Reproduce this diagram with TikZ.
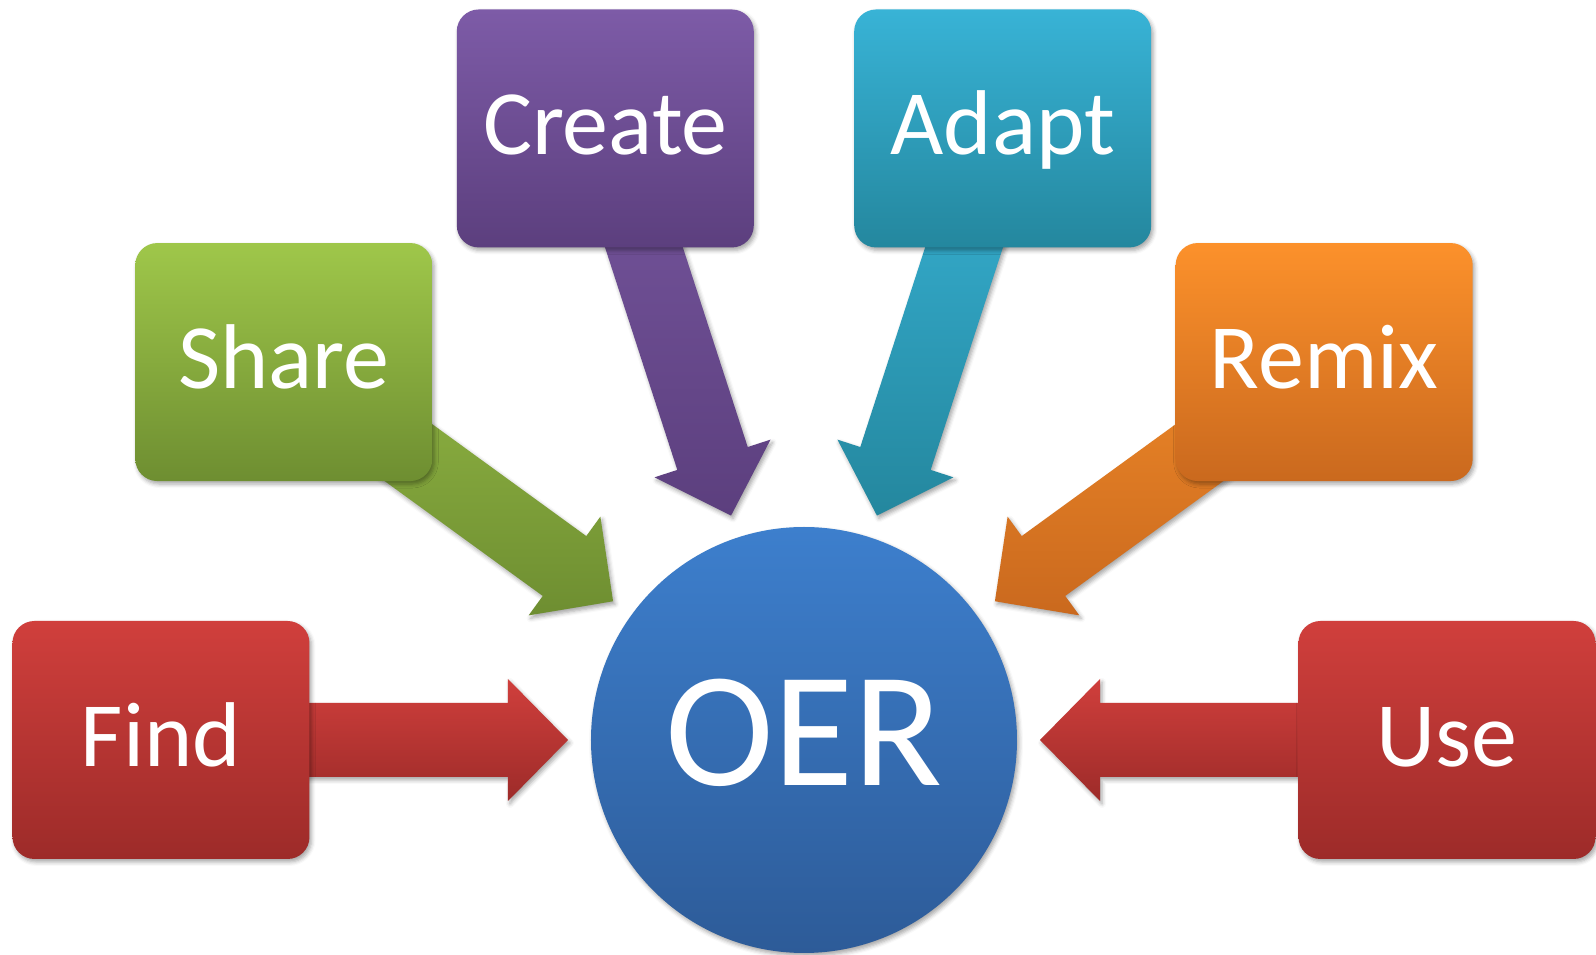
\documentclass[tikz,border=0pt]{standalone}
\usepackage{fontspec}
\setmainfont{Carlito}
\usetikzlibrary{calc,shadows.blur}
\pgfdeclarelayer{background}
\pgfsetlayers{background,main}

\definecolor{purT}{HTML}{7D5BA7}\definecolor{purB}{HTML}{5C3F7E}
\definecolor{aquT}{HTML}{38B3D6}\definecolor{aquB}{HTML}{24879E}
\definecolor{grnT}{HTML}{9FC74A}\definecolor{grnB}{HTML}{6E8E31}
\definecolor{orgT}{HTML}{FC912B}\definecolor{orgB}{HTML}{CA691E}
\definecolor{redT}{HTML}{D03F3C}\definecolor{redB}{HTML}{9D2B29}
\definecolor{bluT}{HTML}{3D7FCD}\definecolor{bluB}{HTML}{2D5B98}

\tikzset{
  softshadow/.style={blur shadow={shadow xshift=2pt, shadow yshift=-3pt,
      shadow blur radius=4pt, shadow opacity=35}},
  stepbox/.style={rectangle, rounded corners=22pt, minimum width=297pt,
      minimum height=238pt, inner sep=0pt, text=white,
      font=\fontsize{92}{92}\selectfont, text height=60pt, text depth=7pt,
      softshadow},
  hubnode/.style={circle, minimum size=426pt, inner sep=0pt, text=white,
      font=\fontsize{164}{164}\selectfont, text height=100pt, text depth=8pt,
      top color=bluT, bottom color=bluB, softshadow},
  blockarrow/.style={softshadow}
}

\newcommand\oerarrow[4]{%
  \path[blockarrow, top color=#3, bottom color=#4]
    ($(#2.center)+(#1+90:37pt)$)
    -- ($(oer.center)+(#1:296pt)+(#1+90:37pt)$)
    -- ($(oer.center)+(#1:296pt)+(#1+90:61pt)$)
    -- ($(oer.center)+(#1:236pt)$)
    -- ($(oer.center)+(#1:296pt)+(#1-90:61pt)$)
    -- ($(oer.center)+(#1:296pt)+(#1-90:37pt)$)
    -- ($(#2.center)+(#1-90:37pt)$) -- cycle;}

\begin{document}
\begin{tikzpicture}[x=1pt,y=1pt]
\useasboundingbox (-804,-215) rectangle (792,740);

\node[hubnode] (oer) at (0,0) {OER};

\node[stepbox, top color=redT, bottom color=redB] (find)   at (180:643pt) {Find};
\node[stepbox, top color=grnT, bottom color=grnB] (share)  at (144:643pt) {Share};
\node[stepbox, top color=purT, bottom color=purB] (create) at (108:643pt) {Create};
\node[stepbox, top color=aquT, bottom color=aquB] (adapt)  at (72:643pt) {Adapt};
\node[stepbox, top color=orgT, bottom color=orgB] (remix)  at (36:643pt) {Remix};
\node[stepbox, top color=redT, bottom color=redB] (use)    at (0:643pt) {Use};

\begin{pgfonlayer}{background}
\oerarrow{180}{find}{redT}{redB}
\oerarrow{144}{share}{grnT!92!black}{grnB}
\oerarrow{108}{create}{purT!95!black}{purB}
\oerarrow{72}{adapt}{aquT}{aquB}
\oerarrow{36}{remix}{orgT!95!black}{orgB}
\oerarrow{0}{use}{redT}{redB}
\end{pgfonlayer}
\end{tikzpicture}
\end{document}
